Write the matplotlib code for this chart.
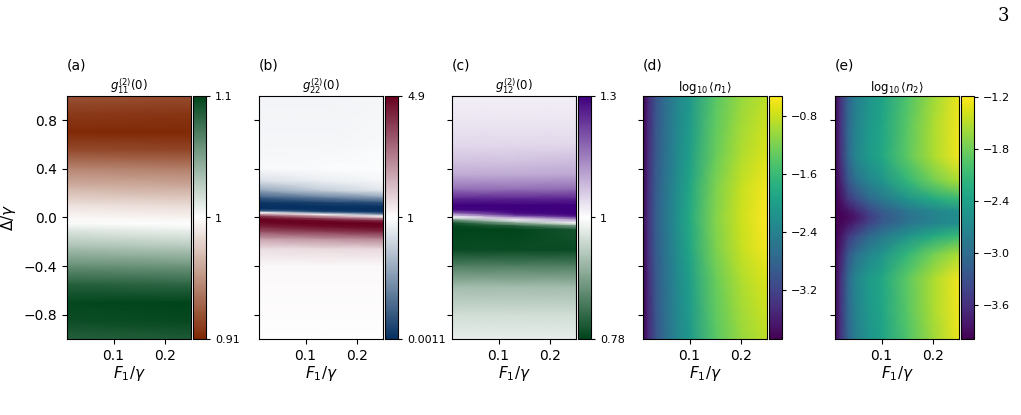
import numpy as np
import matplotlib
matplotlib.use('Agg')
import matplotlib.pyplot as plt
from matplotlib.colors import TwoSlopeNorm, Normalize, LinearSegmentedColormap

# ---- data ----
# (a) g11(0): rows = detuning, cols = drive
F_a = [0.01, 0.25]
D_a = [1.0, 0.85, 0.7, 0.55, 0.4, 0.25, 0.1, 0.0, -0.05, -0.1, -0.25, -0.4, -0.55, -0.7, -0.85, -1.0]
g11 = [[0.928, 0.926],
       [0.918, 0.916],
       [0.912, 0.911],
       [0.926, 0.924],
       [0.950, 0.947],
       [0.968, 0.965],
       [0.988, 0.985],
       [0.997, 0.995],
       [1.002, 1.000],
       [1.012, 1.007],
       [1.035, 1.030],
       [1.060, 1.057],
       [1.085, 1.082],
       [1.098, 1.100],
       [1.095, 1.097],
       [1.085, 1.088]]

# (b) g22(0)
F_b = [0.01, 0.13, 0.25]
D_b = [1.0, 0.6, 0.4, 0.3, 0.22, 0.16, 0.12, 0.09, 0.07, 0.05, 0.04, 0.025, 0.01,
       -0.01, -0.03, -0.05, -0.08, -0.12, -0.18, -0.26, -0.4, -1.0]
g22 = [[0.95, 0.95, 0.96],
       [0.96, 0.96, 0.97],
       [0.97, 0.98, 0.985],
       [0.85, 0.92, 0.96],
       [0.55, 0.75, 0.88],
       [0.20, 0.35, 0.50],
       [0.03, 0.08, 0.15],
       [0.005, 0.01, 0.03],
       [0.02, 0.005, 0.005],
       [0.30, 0.05, 0.01],
       [1.0, 0.30, 0.10],
       [2.5, 1.0, 0.40],
       [4.0, 2.5, 1.0],
       [4.8, 4.0, 2.8],
       [4.9, 4.8, 4.3],
       [4.7, 4.9, 4.9],
       [4.3, 4.6, 4.8],
       [3.6, 3.9, 4.2],
       [2.4, 2.6, 2.8],
       [1.5, 1.55, 1.6],
       [1.12, 1.12, 1.12],
       [1.03, 1.03, 1.03]]

# (c) g12(0)
F_c = [0.01, 0.13, 0.25]
D_c = [1.0, 0.8, 0.6, 0.45, 0.35, 0.23, 0.15, 0.1, 0.06, 0.03, 0.01, 0.0, -0.02,
       -0.045, -0.07, -0.1, -0.27, -0.4, -0.57, -0.8, -1.0]
g12 = [[1.02, 1.02, 1.02],
       [1.03, 1.03, 1.03],
       [1.045, 1.045, 1.045],
       [1.075, 1.075, 1.08],
       [1.10, 1.10, 1.105],
       [1.17, 1.17, 1.175],
       [1.26, 1.26, 1.26],
       [1.30, 1.30, 1.30],
       [1.29, 1.30, 1.30],
       [1.15, 1.28, 1.30],
       [1.05, 1.20, 1.28],
       [1.0, 1.12, 1.22],
       [0.88, 1.02, 1.12],
       [0.80, 0.90, 1.0],
       [0.785, 0.81, 0.88],
       [0.78, 0.78, 0.80],
       [0.79, 0.79, 0.79],
       [0.85, 0.85, 0.85],
       [0.92, 0.92, 0.92],
       [0.96, 0.96, 0.96],
       [0.98, 0.98, 0.98]]

# (d), (e) log10 populations
F_n = [0.01, 0.02, 0.035, 0.05, 0.075, 0.1, 0.15, 0.2, 0.25]
D_d = [1.0, 0.5, 0.25, 0.0, -0.25, -0.5, -1.0]
logn1 = [[-3.87, -3.50, -3.00, -2.72, -2.35, -2.10, -1.40, -1.05, -0.85],
         [-3.85, -3.45, -2.95, -2.68, -2.30, -2.00, -1.30, -0.92, -0.70],
         [-3.82, -3.40, -2.90, -2.64, -2.25, -1.90, -1.20, -0.82, -0.58],
         [-3.80, -3.38, -2.88, -2.62, -2.22, -1.85, -1.15, -0.78, -0.52],
         [-3.82, -3.40, -2.90, -2.64, -2.25, -1.90, -1.20, -0.82, -0.58],
         [-3.85, -3.45, -2.95, -2.68, -2.30, -2.00, -1.30, -0.92, -0.70],
         [-3.87, -3.50, -3.00, -2.72, -2.35, -2.10, -1.40, -1.05, -0.85]]

D_e = [1.0, 0.75, 0.5, 0.3, 0.15, 0.05, 0.0, -0.05, -0.15, -0.3, -0.5, -0.75, -1.0]
logn2 = [[-3.95, -3.60, -3.10, -2.80, -2.55, -2.40, -1.97, -1.60, -1.28],
         [-3.95, -3.60, -3.05, -2.75, -2.50, -2.35, -1.92, -1.55, -1.25],
         [-3.96, -3.62, -3.05, -2.72, -2.48, -2.33, -1.90, -1.55, -1.25],
         [-3.98, -3.75, -3.25, -2.98, -2.72, -2.55, -2.15, -1.80, -1.55],
         [-3.99, -3.88, -3.55, -3.35, -3.05, -2.88, -2.55, -2.30, -2.10],
         [-3.99, -3.95, -3.85, -3.70, -3.40, -3.20, -2.90, -2.72, -2.60],
         [-3.99, -3.97, -3.92, -3.82, -3.50, -3.25, -2.95, -2.75, -2.63],
         [-3.99, -3.95, -3.85, -3.70, -3.40, -3.20, -2.90, -2.72, -2.60],
         [-3.99, -3.88, -3.55, -3.35, -3.05, -2.88, -2.55, -2.30, -2.10],
         [-3.98, -3.75, -3.25, -2.98, -2.72, -2.55, -2.15, -1.80, -1.55],
         [-3.96, -3.62, -3.05, -2.72, -2.48, -2.33, -1.90, -1.55, -1.25],
         [-3.95, -3.60, -3.05, -2.75, -2.50, -2.35, -1.92, -1.55, -1.25],
         [-3.95, -3.60, -3.10, -2.80, -2.55, -2.40, -1.97, -1.60, -1.28]]

cb_ticks = [[0.91, 1, 1.1], [0.0011, 1, 4.9], [0.78, 1, 1.3],
            [-0.8, -1.6, -2.4, -3.2], [-1.2, -1.8, -2.4, -3.0, -3.6]]
cb_labels = [['0.91', '1', '1.1'], ['0.0011', '1', '4.9'], ['0.78', '1', '1.3'],
             ['−0.8', '−1.6', '−2.4', '−3.2'], ['−1.2', '−1.8', '−2.4', '−3.0', '−3.6']]
titles = [r'$g^{(2)}_{11}(0)$', r'$g^{(2)}_{22}(0)$', r'$g^{(2)}_{12}(0)$',
          r'$\log_{10}\langle n_1\rangle$', r'$\log_{10}\langle n_2\rangle$']
letters = ['(a)', '(b)', '(c)', '(d)', '(e)']

# three-colour maps: dark end -> white -> dark end
brgn = LinearSegmentedColormap.from_list('brgn', ['#7f2704', '#ffffff', '#00441b'])
burd = LinearSegmentedColormap.from_list('burd', ['#053061', '#ffffff', '#67001f'])
gnpr = LinearSegmentedColormap.from_list('gnpr', ['#00441b', '#ffffff', '#3f007d'])
panels = [
    (F_a, D_a, g11, brgn, TwoSlopeNorm(1, 0.91, 1.1)),
    (F_b, D_b, g22, burd, TwoSlopeNorm(1, 0.0011, 4.9)),
    (F_c, D_c, g12, gnpr, TwoSlopeNorm(1, 0.78, 1.3)),
    (F_n, D_d, logn1, 'viridis', Normalize(-3.87, -0.52)),
    (F_n, D_e, logn2, 'viridis', Normalize(-3.99, -1.19)),
]

W, H = 1021, 415
fig = plt.figure(figsize=(W / 100, H / 100), dpi=100)
lefts = [67, 259, 452, 643, 835]
for i, (F, D, Z, cmap, norm) in enumerate(panels):
    x0 = lefts[i]
    ax = fig.add_axes([x0 / W, 1 - 339 / H, 124 / W, 243 / H])
    cax = fig.add_axes([(x0 + 126) / W, 1 - 339 / H, 13 / W, 243 / H])
    X, Y = np.meshgrid(F, D)
    m = ax.pcolormesh(X, Y, np.array(Z), cmap=cmap, norm=norm, shading='gouraud')
    ax.set_xlim(0.01, 0.25)
    ax.set_ylim(-1, 1)
    ax.set_xticks([0.1, 0.2])
    ax.set_yticks([-0.8, -0.4, 0.0, 0.4, 0.8])
    ax.tick_params(labelsize=10)
    ax.set_xlabel(r'$F_1/\gamma$', fontsize=11, labelpad=1)
    if i == 0:
        ax.set_ylabel(r'$\Delta/\gamma$', fontsize=11)
    else:
        ax.set_yticklabels([])
    ax.set_title(titles[i], fontsize=8.5, pad=2)
    ax.text(0, 1.095, letters[i], transform=ax.transAxes, fontsize=10, ha='left', va='bottom')
    cb = fig.colorbar(m, cax=cax)
    cb.set_ticks(cb_ticks[i])
    cb.set_ticklabels(cb_labels[i])
    cb.ax.tick_params(labelsize=8, length=3)

fig.text(1003 / W, 1 - 16 / H, '3', family='DejaVu Serif', fontsize=13, ha='center', va='center')
fig.savefig('out.png', dpi=100)
